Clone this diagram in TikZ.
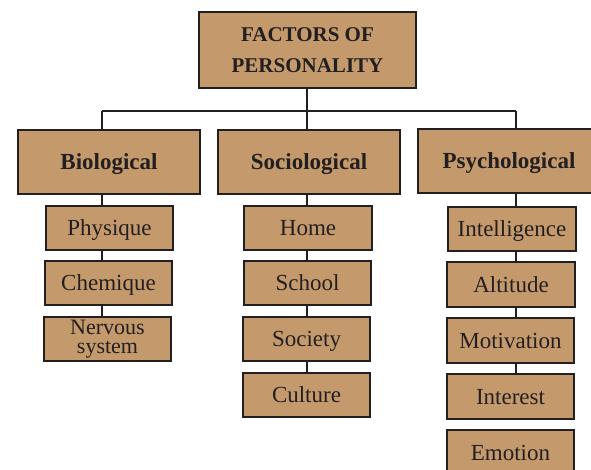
\documentclass[tikz,border=0pt]{standalone}
\usepackage{fontspec}
\setmainfont{Liberation Serif}
\definecolor{tan}{RGB}{196,154,108}
\definecolor{ink}{RGB}{35,31,32}
\begin{document}
\begin{tikzpicture}[x=1pt,y=-1pt,
  base/.style={draw=ink, line width=2pt, fill=tan, rectangle, inner sep=0pt, anchor=center,
    text=ink, align=center},
  box/.style={base, text height=15pt, text depth=0pt},
  head/.style={box, minimum width=182pt, minimum height=64pt, font=\fontsize{23}{27}\selectfont\bfseries},
  item/.style={box, minimum width=127pt, minimum height=44pt, font=\fontsize{23}{27}\selectfont},
  link/.style={draw=ink, line width=1.6pt}]
\useasboundingbox (0,0) rectangle (591,469);
\clip (0,0) rectangle (591,469);
% title
\node[base, minimum width=217pt, minimum height=76pt, font=\fontsize{21}{31}\selectfont\bfseries] (top) at (307.5,50) {FACTORS OF\\PERSONALITY};
% heads
\node[head] (bio) at (109,162) {Biological};
\node[head] (soc) at (309,161.5) {Sociological};
\node[head] (psy) at (509,161) {Psychological};
% biological items
\node[item] (phys) at (109.5,227.5) {Physique};
\node[item] (chem) at (108.5,283) {Chemique};
\node[base, minimum width=127pt, minimum height=44pt, font=\fontsize{22}{19}\selectfont] (nerv) at (107.5,339) {Nervous\\system};
% sociological items
\node[item, minimum width=128pt] (home) at (308,228) {Home};
\node[item] (school) at (307.5,283) {School};
\node[item] (society) at (306.5,339) {Society};
\node[item] (culture) at (306.5,395) {Culture};
% psychological items
\node[item, minimum width=128pt] (intel) at (512,229) {Intelligence};
\node[item, minimum width=128pt, minimum height=45pt] (alt) at (511,284.5) {Altitude};
\node[item, minimum height=45pt] (motiv) at (510.5,340.5) {Motivation};
\node[item, minimum height=45pt] (inter) at (510.5,396.5) {Interest};
\node[item, minimum height=45pt] (emo) at (510.5,452.5) {Emotion};
% connector coordinates
\coordinate (bx) at (102,111);
\coordinate (sx) at (307,111);
\coordinate (px) at (516,111);
\draw[link] (top.south -| sx) -- (sx);
\draw[link] (bx) -- (px);
\draw[link] (bx) -- (bio.north -| bx);
\draw[link] (sx) -- (soc.north -| sx);
\draw[link] (px) -- (psy.north -| px);
\draw[link] (bio.south -| bx) -- (phys.north -| bx);
\draw[link] (phys.south -| bx) -- (chem.north -| bx);
\draw[link] (chem.south -| bx) -- (nerv.north -| bx);
\draw[link] (soc.south -| sx) -- (home.north -| sx);
\draw[link] (home.south -| sx) -- (school.north -| sx);
\draw[link] (school.south -| sx) -- (society.north -| sx);
\draw[link] (society.south -| sx) -- (culture.north -| sx);
\draw[link] (psy.south -| px) -- (intel.north -| px);
\draw[link] (intel.south -| px) -- (alt.north -| px);
\draw[link] (alt.south -| px) -- (motiv.north -| px);
\draw[link] (motiv.south -| px) -- (inter.north -| px);
\end{tikzpicture}
\end{document}
